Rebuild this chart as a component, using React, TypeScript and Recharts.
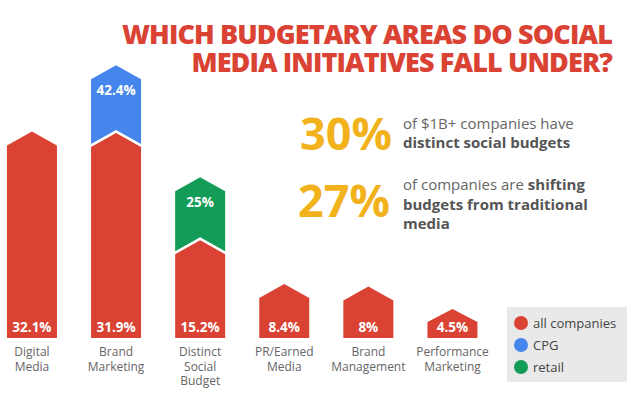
import React from "react";
import { BarChart, Bar, XAxis, YAxis, Legend, LabelList } from "recharts";

const categories = [
  "Digital\nMedia",
  "Brand\nMarketing",
  "Distinct\nSocial\nBudget",
  "PR/Earned\nMedia",
  "Brand\nManagement",
  "Performance\nMarketing",
];
const allCompanies = [32.1, 31.9, 15.2, 8.4, 8, 4.5];
const cpg = [0, 42.4, 0, 0, 0, 0];
const retail = [0, 0, 25, 0, 0, 0];
const seriesNames = ["all companies", "CPG", "retail"];

const RED = "#da4334";
const BLUE = "#4586ec";
const GREEN = "#129c57";
const YELLOW = "#f2b21c";
const FONT = "'Open Sans', 'Noto Sans', sans-serif";

const data = categories.map((name, i) => ({
  name,
  all: allCompanies[i],
  cpgExtra: cpg[i] > 0 ? cpg[i] - allCompanies[i] : 0,
  retailExtra: retail[i] > 0 ? retail[i] - allCompanies[i] : 0,
  allLabel: `${allCompanies[i]}%`,
  cpgLabel: cpg[i] > 0 ? `${cpg[i]}%` : "",
  retailLabel: retail[i] > 0 ? `${retail[i]}%` : "",
}));

const House = (props: any) => {
  const { x, y, width, height, fill } = props;
  if (!height || height <= 0) return null;
  const roof = Math.min(14, height * 0.45);
  const cx = x + width / 2;
  const d = `M${x},${y + height} L${x},${y + roof} L${cx},${y} L${x + width},${y + roof} L${x + width},${y + height} Z`;
  return <path d={d} fill={fill} />;
};

const Cap = (props: any) => {
  const { x, y, width, height, fill } = props;
  if (!height || height <= 0) return null;
  const roof = 14;
  const gap = 3;
  const cx = x + width / 2;
  const bottom = y + height - gap;
  const d = `M${x},${bottom + roof} L${x},${y + roof} L${cx},${y} L${x + width},${y + roof} L${x + width},${bottom + roof} L${cx},${bottom} Z`;
  return <path d={d} fill={fill} />;
};

const BottomLabel = (props: any) => {
  const { x, y, width, height, value } = props;
  if (!value) return null;
  return (
    <text
      x={x + width / 2}
      y={y + height - 6.5}
      textAnchor="middle"
      fill="#fff"
      fontFamily={FONT}
      fontWeight={700}
      fontSize={13.5}
    >
      {value}
    </text>
  );
};

const TopLabel = (props: any) => {
  const { x, y, width, height, value } = props;
  if (!value || !height) return null;
  return (
    <text
      x={x + width / 2}
      y={y + 30}
      textAnchor="middle"
      fill="#fff"
      fontFamily={FONT}
      fontWeight={700}
      fontSize={13.5}
    >
      {value}
    </text>
  );
};

const Tick = (props: any) => {
  const { x, y, payload } = props;
  const lines = String(payload.value).split("\n");
  return (
    <g>
      {lines.map((l, i) => (
        <text
          key={i}
          x={x}
          y={y + 18 + i * 14.5}
          textAnchor="middle"
          fill="#666"
          fontFamily={FONT}
          fontSize={12}
        >
          {l}
        </text>
      ))}
    </g>
  );
};

const LegendBox = (props: any) => {
  const payload = [...(props.payload || [])].sort(
    (a: any, b: any) => seriesNames.indexOf(a.value) - seriesNames.indexOf(b.value)
  );
  return (
    <div
      style={{
        width: 120,
        height: 75,
        background: "#e9e9e9",
        boxSizing: "border-box",
        paddingTop: 5,
        fontFamily: FONT,
      }}
    >
      {payload.map((p: any, i: number) => (
        <div
          key={i}
          style={{
            display: "flex",
            alignItems: "center",
            height: 22,
            paddingLeft: 7,
          }}
        >
          <span
            style={{
              display: "inline-block",
              width: 14,
              height: 14,
              borderRadius: 7,
              background: p.color,
              marginRight: 5,
            }}
          />
          <span style={{ fontSize: 13, color: "#444" }}>{p.value}</span>
        </div>
      ))}
    </div>
  );
};

export default function App() {
  return (
    <div
      style={{
        position: "absolute",
        left: 0,
        top: 0,
        width: 640,
        height: 398,
        background: "#fff",
        fontFamily: FONT,
      }}
    >
      <BarChart
        width={640}
        height={398}
        data={data}
        margin={{ top: 16.5, right: 145.45, bottom: 0, left: -10.05 }}
      >
        <XAxis
          dataKey="name"
          interval={0}
          tickLine={false}
          axisLine={false}
          tickSize={0}
          tickMargin={0}
          height={60}
          tick={<Tick />}
        />
        <YAxis hide domain={[0, 50]} />
        <Legend
          layout="vertical"
          align="center"
          verticalAlign="middle"
          content={<LegendBox />}
          wrapperStyle={{ position: "absolute", left: 507, top: 307, width: 120, height: 75 }}
        />
        <Bar
          dataKey="all"
          name={seriesNames[0]}
          stackId="a"
          fill={RED}
          barSize={50}
          shape={<House />}
          isAnimationActive={false}
        >
          <LabelList dataKey="allLabel" content={<BottomLabel />} />
        </Bar>
        <Bar
          dataKey="cpgExtra"
          name={seriesNames[1]}
          stackId="a"
          fill={BLUE}
          barSize={50}
          shape={<Cap />}
          isAnimationActive={false}
        >
          <LabelList dataKey="cpgLabel" content={<TopLabel />} />
        </Bar>
        <Bar
          dataKey="retailExtra"
          name={seriesNames[2]}
          stackId="a"
          fill={GREEN}
          barSize={50}
          shape={<Cap />}
          isAnimationActive={false}
        >
          <LabelList dataKey="retailLabel" content={<TopLabel />} />
        </Bar>
      </BarChart>

      <div
        style={{
          position: "absolute",
          right: 28,
          top: 20,
          textAlign: "right",
          fontSize: 27,
          lineHeight: "28px",
          fontWeight: 800,
          letterSpacing: -0.9,
          color: RED,
          whiteSpace: "nowrap",
        }}
      >
        WHICH BUDGETARY AREAS DO SOCIAL
        <br />
        MEDIA INITIATIVES FALL UNDER?
      </div>

      <div
        style={{
          position: "absolute",
          left: 300,
          top: 110,
          fontSize: 45,
          lineHeight: "45px",
          fontWeight: 700,
          color: YELLOW,
        }}
      >
        30%
      </div>
      <div
        style={{
          position: "absolute",
          left: 403,
          top: 114,
          fontSize: 15,
          lineHeight: "19px",
          color: "#666",
          whiteSpace: "nowrap",
        }}
      >
        of $1B+ companies have
        <br />
        <b style={{ color: "#555" }}>distinct social budgets</b>
      </div>

      <div
        style={{
          position: "absolute",
          left: 298,
          top: 177,
          fontSize: 45,
          lineHeight: "45px",
          fontWeight: 700,
          color: YELLOW,
        }}
      >
        27%
      </div>
      <div
        style={{
          position: "absolute",
          left: 403,
          top: 175,
          fontSize: 15,
          lineHeight: "19.5px",
          color: "#666",
          whiteSpace: "nowrap",
        }}
      >
        of companies are <b style={{ color: "#555" }}>shifting</b>
        <br />
        <b style={{ color: "#555" }}>budgets from traditional</b>
        <br />
        <b style={{ color: "#555" }}>media</b>
      </div>
    </div>
  );
}
